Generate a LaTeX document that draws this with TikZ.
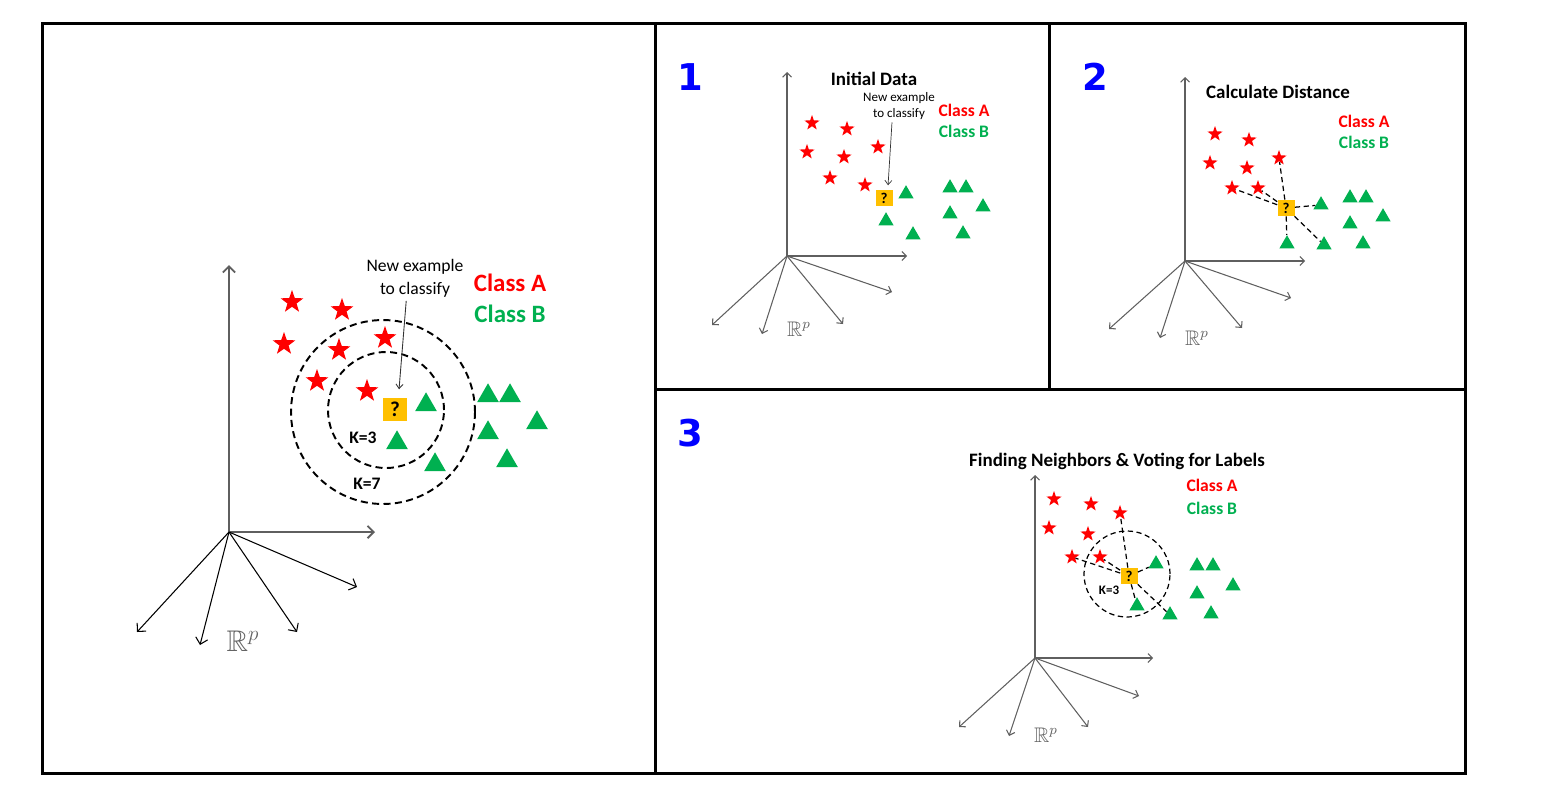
\documentclass[tikz,border=0pt]{standalone}
\usepackage{amssymb}
\usepackage{fontspec}
\setmainfont{Carlito}
\newfontfamily\digitfont{DejaVu Sans}
\usetikzlibrary{shapes.geometric,arrows.meta}
\definecolor{cred}{RGB}{255,0,0}
\definecolor{cgreen}{RGB}{0,176,80}
\definecolor{cyel}{RGB}{255,192,0}
\definecolor{cblue}{RGB}{0,0,255}
\definecolor{axgray}{RGB}{95,95,95}
\definecolor{rpgray}{RGB}{100,100,100}
\begin{document}
\begin{tikzpicture}[x=0.02cm,y=-0.02cm,
  bigstar/.style={star,star points=5,star point ratio=2.5,fill=cred,draw=none,inner sep=0pt,minimum size=0.48cm},
  smallstar/.style={star,star points=5,star point ratio=2.5,fill=cred,draw=none,inner sep=0pt,minimum size=0.32cm},
  bigtri/.style={regular polygon,regular polygon sides=3,fill=cgreen,draw=none,inner sep=0pt,minimum size=0.5cm,yshift=-1.6pt},
  smalltri/.style={regular polygon,regular polygon sides=3,fill=cgreen,draw=none,inner sep=0pt,minimum size=0.35cm,yshift=-1.1pt},
  bigq/.style={fill=cyel,inner sep=0pt,minimum width=0.48cm,minimum height=0.46cm,font=\fontsize{12}{12}\selectfont\bfseries},
  smallq/.style={fill=cyel,inner sep=0pt,minimum width=0.34cm,minimum height=0.32cm,font=\fontsize{8.5}{8.5}\selectfont\bfseries},
  framel/.style={line width=1.7pt,black},
  axthick/.style={draw=axgray,line width=1.1pt,-{Straight Barb[length=3.5pt,width=7pt]}},
  axthin/.style={draw=black,line width=0.6pt,-{Straight Barb[length=3.5pt,width=7pt]}},
  axpanel/.style={draw=axgray,line width=0.6pt,-{Straight Barb[length=2.5pt,width=5pt]}},
  ptr/.style={draw=black!80,line width=0.5pt,-{Straight Barb[length=2.5pt,width=4pt]}},
  bigcirc/.style={circle,draw=black,line width=1.1pt,dash pattern=on 4pt off 2.5pt,inner sep=0pt},
  smallcirc/.style={circle,draw=black,line width=0.7pt,dash pattern=on 3pt off 2pt,inner sep=0pt},
  dist/.style={draw=black,line width=0.7pt,dash pattern=on 3pt off 2pt},
  bigclass/.style={font=\fontsize{14.2}{14.2}\selectfont\bfseries,inner sep=0pt},
  smallclass/.style={font=\fontsize{10}{10}\selectfont\bfseries,inner sep=0pt},
  ptitle/.style={font=\fontsize{10.8}{10.8}\selectfont\bfseries,inner sep=0pt},
  pnum/.style={font=\fontsize{21}{21}\selectfont\digitfont\bfseries,text=cblue,inner sep=0pt},
  rp/.style={text=rpgray,inner sep=0pt}
]
\useasboundingbox (0,0) rectangle (1568,802);
% frames
\draw[framel] (42.5,23.5) rectangle (1465,773.5);
\draw[framel] (655,23.5) -- (655,773.5);
\draw[framel] (1049.5,23.5) -- (1049.5,389.5);
\draw[framel] (655,389.5) -- (1465,389.5);

% ================= LEFT PANEL =================
\coordinate (L-o) at (229,532);
\coordinate (L-up) at (229,265);
\coordinate (L-rt) at (375,532);
\coordinate (L-a1) at (137,632);
\coordinate (L-a2) at (200,645);
\coordinate (L-a3) at (297,632);
\coordinate (L-a4) at (357,587);
\draw[axthick] (L-o) -- (L-up);
\draw[axthick] (L-o) -- (L-rt);
\foreach \e in {L-a1,L-a2,L-a3,L-a4} \draw[axthin] (L-o) -- (\e);
\node[rp,font=\fontsize{17}{17}\selectfont] (L-rp) at (243,641) {$\mathbb{R}^p$};

\node[bigcirc,minimum size=3.68cm] (L-c7) at (383,412) {};
\node[bigcirc,minimum size=2.32cm] (L-c3) at (386,410) {};

\node[bigstar] (L-s1) at (292,302) {};
\node[bigstar] (L-s2) at (342,310) {};
\node[bigstar] (L-s3) at (284,344) {};
\node[bigstar] (L-s4) at (339,350) {};
\node[bigstar] (L-s5) at (385,338) {};
\node[bigstar] (L-s6) at (317,381) {};
\node[bigstar] (L-s7) at (367,391) {};

\node[bigtri] (L-t1) at (426,402) {};
\node[bigtri] (L-t2) at (397,440) {};
\node[bigtri] (L-t3) at (435,462) {};
\node[bigtri] (L-t4) at (488,393) {};
\node[bigtri] (L-t5) at (510,393) {};
\node[bigtri] (L-t6) at (537,420) {};
\node[bigtri] (L-t7) at (488,430) {};
\node[bigtri] (L-t8) at (507,458) {};

\node[bigq] (L-q) at (395,409) {?};
\node[align=center,inner sep=0pt,font=\fontsize{10}{13}\selectfont] (L-ne) at (415,278) {New example\\to classify};
\draw[ptr] ([xshift=-5pt,yshift=-2pt]L-ne.south) -- ([xshift=2.3pt,yshift=4.5pt]L-q.north);
\node[bigclass,text=cred] (L-ca) at (510,283) {Class A};
\node[bigclass,text=cgreen] (L-cb) at (510,314) {Class B};
\node[font=\fontsize{10}{10}\selectfont\bfseries,inner sep=0pt] (L-k3) at (363,438) {K=3};
\node[font=\fontsize{10}{10}\selectfont\bfseries,inner sep=0pt] (L-k7) at (367,484) {K=7};

% ================= PANEL 1 =================
\node[pnum] (n1) at (690,77) {1};
\coordinate (A-o) at (787,256);
\coordinate (A-up) at (787,72);
\coordinate (A-rt) at (907,256);
\coordinate (A-a1) at (712,325);
\coordinate (A-a2) at (762,334);
\coordinate (A-a3) at (843,324);
\coordinate (A-a4) at (892,292);
\foreach \e in {A-up,A-rt,A-a1,A-a2,A-a3,A-a4} \draw[axpanel] (A-o) -- (\e);
\node[rp,font=\fontsize{12}{12}\selectfont] (A-rp) at (799,329) {$\mathbb{R}^p$};

\node[smallstar] (A-s1) at (812,123) {};
\node[smallstar] (A-s2) at (847,129) {};
\node[smallstar] (A-s3) at (807,152) {};
\node[smallstar] (A-s4) at (844,157) {};
\node[smallstar] (A-s5) at (878,147) {};
\node[smallstar] (A-s6) at (830,178) {};
\node[smallstar] (A-s7) at (865,185) {};
\node[smalltri] (A-t1) at (906,192) {};
\node[smalltri] (A-t2) at (950,186) {};
\node[smalltri] (A-t3) at (966,186) {};
\node[smalltri] (A-t4) at (886,219) {};
\node[smalltri] (A-t5) at (983,205) {};
\node[smalltri] (A-t6) at (950,212) {};
\node[smalltri] (A-t7) at (913,233) {};
\node[smalltri] (A-t8) at (963,232) {};
\node[smallq] (A-q) at (884,198) {?};

\node[ptitle] (A-title) at (874,79) {Initial Data};
\node[align=center,inner sep=0pt,font=\fontsize{7.4}{9}\selectfont] (A-ne) at (899,106) {New example\\to classify};
\draw[ptr,line width=0.4pt] ([xshift=-4pt,yshift=-1.5pt]A-ne.south) -- ([xshift=2.3pt,yshift=2.5pt]A-q.north);
\node[smallclass,text=cred] (A-ca) at (964,110) {Class A};
\node[smallclass,text=cgreen] (A-cb) at (964,131) {Class B};

% ================= PANEL 2 =================
\node[pnum] (n2) at (1095,77) {2};
\coordinate (B-o) at (1185,261);
\coordinate (B-up) at (1185,77);
\coordinate (B-rt) at (1305,261);
\coordinate (B-a1) at (1109,329);
\coordinate (B-a2) at (1160,338);
\coordinate (B-a3) at (1242,328);
\coordinate (B-a4) at (1291,298);
\foreach \e in {B-up,B-rt,B-a1,B-a2,B-a3,B-a4} \draw[axpanel] (B-o) -- (\e);
\node[rp,font=\fontsize{12}{12}\selectfont] (B-rp) at (1197,338) {$\mathbb{R}^p$};

\node[smallstar] (B-s1) at (1215,134) {};
\node[smallstar] (B-s2) at (1249,140) {};
\node[smallstar] (B-s3) at (1210,163) {};
\node[smallstar] (B-s4) at (1247,168) {};
\node[smallstar] (B-s5) at (1279,158) {};
\node[smallstar] (B-s6) at (1232,188) {};
\node[smallstar] (B-s7) at (1258,188) {};
\node[smalltri] (B-t1) at (1321,203) {};
\node[smalltri] (B-t2) at (1350,196) {};
\node[smalltri] (B-t3) at (1366,196) {};
\node[smalltri] (B-t4) at (1383,215) {};
\node[smalltri] (B-t5) at (1350,222) {};
\node[smalltri] (B-t6) at (1287,242) {};
\node[smalltri] (B-t7) at (1324,243) {};
\node[smalltri] (B-t8) at (1363,242) {};
\node[smallq] (B-q) at (1286,208) {?};
\foreach \e in {B-s5,B-s6,B-s7,B-t1,B-t6,B-t7} \draw[dist] (B-q) -- (\e);

\node[ptitle] (B-title) at (1278,92) {Calculate Distance};
\node[smallclass,text=cred] (B-ca) at (1364,121) {Class A};
\node[smallclass,text=cgreen] (B-cb) at (1364,142) {Class B};

% ================= PANEL 3 =================
\node[pnum] (n3) at (690,433) {3};
\coordinate (C-o) at (1035,658);
\coordinate (C-up) at (1035,475);
\coordinate (C-rt) at (1153,658);
\coordinate (C-a1) at (959,727);
\coordinate (C-a2) at (1009,736);
\coordinate (C-a3) at (1088,727);
\coordinate (C-a4) at (1139,696);
\foreach \e in {C-up,C-rt,C-a1,C-a2,C-a3,C-a4} \draw[axpanel] (C-o) -- (\e);
\node[rp,font=\fontsize{12}{12}\selectfont] (C-rp) at (1046,735) {$\mathbb{R}^p$};

\node[smallcirc,minimum size=1.72cm] (C-c3) at (1127,574) {};
\node[smallstar] (C-s1) at (1054,499) {};
\node[smallstar] (C-s2) at (1091,504) {};
\node[smallstar] (C-s3) at (1120,513) {};
\node[smallstar] (C-s4) at (1049,528) {};
\node[smallstar] (C-s5) at (1088,534) {};
\node[smallstar] (C-s6) at (1072,557) {};
\node[smallstar] (C-s7) at (1100,557) {};
\node[smalltri] (C-t1) at (1156,562) {};
\node[smalltri] (C-t2) at (1197,564) {};
\node[smalltri] (C-t3) at (1213,564) {};
\node[smalltri] (C-t4) at (1233,584) {};
\node[smalltri] (C-t5) at (1197,592) {};
\node[smalltri] (C-t6) at (1137,604) {};
\node[smalltri] (C-t7) at (1170,613) {};
\node[smalltri] (C-t8) at (1211,612) {};
\node[smallq] (C-q) at (1129,576) {?};
\foreach \e in {C-s3,C-s6,C-s7,C-t1,C-t6,C-t7} \draw[dist] (C-q) -- (\e);
\node[font=\fontsize{7.4}{7.4}\selectfont\bfseries,inner sep=0pt] (C-k3) at (1109,590) {K=3};

\node[ptitle] (C-title) at (1117,461) {Finding Neighbors \& Voting for Labels};
\node[smallclass,text=cred] (C-ca) at (1212,485) {Class A};
\node[smallclass,text=cgreen] (C-cb) at (1212,508) {Class B};
\end{tikzpicture}
\end{document}
